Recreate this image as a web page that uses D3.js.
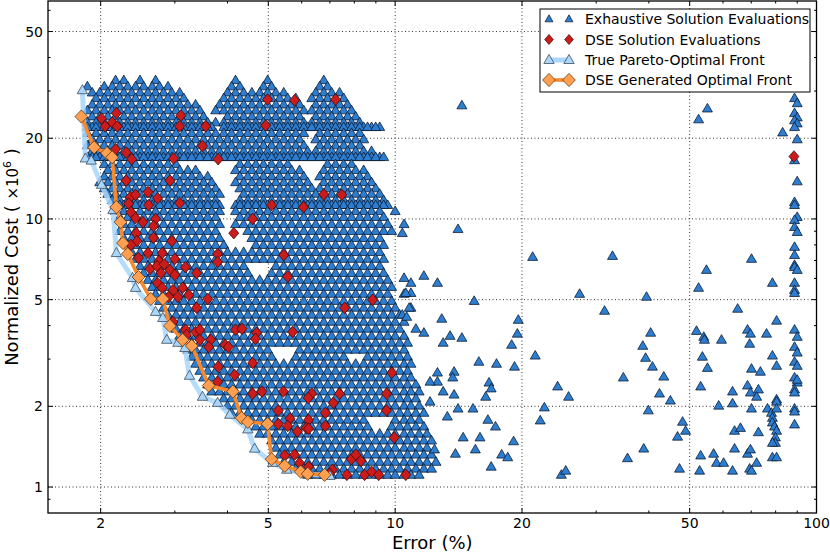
<!DOCTYPE html>
<html>
<head>
<meta charset="utf-8">
<script src="https://cdn.jsdelivr.net/npm/d3@7"></script>
<style>
  body { margin: 0; background: #fff; }
  svg { font-family: "DejaVu Sans", sans-serif; }
</style>
</head>
<body>
<svg id="chart" width="830" height="554"></svg>
<script>
// ---- data: [cost (x10^6), [errors %]] per row of the dense cloud ----
var exhaustiveRows = [
 [32.9,[2.17,2.27,2.48,2.70,4.18,4.98,6.77]],
 [31.2,[1.86,2.04,2.13,2.22,2.32,2.42,2.53,2.65,2.76,2.89,4.09,4.28,4.87,5.09,6.62,6.91]],
 [29.6,[1.91,1.99,2.08,2.17,2.27,2.37,2.48,2.59,2.70,2.82,2.95,3.08,4.00,4.18,4.37,4.57,4.77,4.98,5.21,5.44,6.48,6.77,7.07,7.38]],
 [28.2,[1.95,2.04,2.13,2.22,2.32,2.42,2.53,2.65,2.76,2.89,3.02,3.15,3.92,4.09,4.28,4.47,4.67,4.87,5.09,5.32,5.56,5.81,6.34,6.62,6.91,7.22,7.55]],
 [26.7,[1.91,1.99,2.08,2.17,2.27,2.37,2.48,2.59,2.70,2.82,2.95,3.08,3.22,3.36,3.83,4.00,4.18,4.37,4.57,4.77,4.98,5.21,5.44,5.68,5.93,6.48,6.77,7.07,7.38,7.71]],
 [25.4,[1.86,1.95,2.04,2.13,2.22,2.32,2.42,2.53,2.65,2.76,2.89,3.02,3.15,3.29,3.44,3.75,3.92,4.09,4.28,4.47,4.67,4.87,5.09,5.32,5.56,5.81,6.07,6.34,6.62,6.91,7.22,7.55,7.88]],
 [24.1,[1.91,1.99,2.08,2.17,2.27,2.37,2.48,2.59,2.70,2.82,2.95,3.08,3.22,3.36,3.51,4.00,4.18,4.37,4.57,4.77,4.98,5.21,5.44,5.68,5.93,6.48,6.77,7.07,7.38,7.71,8.06]],
 [22.9,[1.86,1.95,2.04,2.13,2.22,2.32,2.42,2.53,2.65,2.76,2.89,3.02,3.15,3.29,3.44,3.59,3.75,3.92,4.09,4.28,4.47,4.67,4.87,5.09,5.32,5.56,5.81,6.07,6.34,6.62,6.91,7.22,7.55,7.88,8.24]],
 [22.0,[1.91,1.99,2.08,2.17,2.27,2.37,2.48,2.59,2.70,2.82,2.95,3.08,3.22,3.36,3.51,3.67,4.00,4.18,4.37,4.57,4.77,4.98,5.21,5.44,5.68,5.93,6.20,6.48,6.77,7.07,7.38,7.71,8.06,8.42,8.79,9.19,
        1.86,1.95,2.04,2.13,2.22,2.32,2.42,2.53,2.65,2.76,2.89,3.02,3.15,3.29,3.44,3.59,3.92,4.09,4.28,4.47,4.67,4.87,5.09,5.32,5.56,5.81,6.07,6.34,6.62,6.91,7.22,7.55,7.88,8.24,8.60,8.99]],
 [20.9,[1.86,1.95,2.04,2.13,2.22,2.32,2.42,2.53,2.65,2.76,2.89,3.02,3.15,3.29,3.44,3.59,3.75,3.92,4.09,4.28,4.47,4.67,4.87,5.09,5.32,5.56,5.81,6.07,6.62,6.91,7.22,7.55,7.88,8.24]],
 [19.8,[1.91,1.99,2.08,2.17,2.27,2.37,2.48,2.59,2.70,2.82,2.95,3.08,3.22,3.36,3.51,3.67,3.83,4.00,4.18,4.37,4.57,4.77,4.98,5.21,5.44,5.68,5.93,6.48,6.77,7.07,7.38,7.71,8.06,8.42]],
 [18.8,[1.86,1.95,2.04,2.13,2.22,2.32,2.42,2.53,2.65,2.76,2.89,3.02,3.15,3.29,3.44,3.59,3.75,3.92,4.09,4.28,4.47,4.67,4.87,5.09,5.32,5.56,5.81,6.07,6.62,6.91,7.22,7.55,7.88,8.24]],
 [17.9,[1.91,1.99,2.08,2.17,2.27,2.37,2.48,2.59,2.70,2.82,2.95,3.08,3.22,3.36,3.51,3.67,3.83,4.00,4.18,4.37,4.57,4.77,4.98,5.21,5.44,5.68,5.93,6.20,6.48,6.77,7.07,7.38,7.71,8.06,8.42,8.79]],
 [17.0,[1.91,1.99,2.08,2.17,2.27,2.37,2.48,2.59,2.70,2.82,2.95,3.08,3.22,3.36,3.51,3.67,3.83,4.00,4.18,4.37,4.57,4.77,4.98,5.21,5.44,5.68,5.93,6.20,6.48,6.77,7.07,7.38,7.71,8.06,8.42,8.79,9.19,
        1.86,1.95,2.04,2.13,2.22,2.32,2.42,2.53,2.65,2.76,2.89,3.02,3.15,3.29,3.44,3.59,3.75,3.92,4.09,4.28,4.47,4.67,4.87,5.09,5.32,5.56,5.81,6.07,6.34,6.62,6.91,7.22,7.55,7.88,8.24,8.60,8.99,9.39]],
 [16.0,[2.04,2.13,2.22,2.32,2.42,2.53,2.65,2.76,2.89,3.02,4.28,4.47,4.67,4.87,5.09,5.32,5.56,6.91,7.22,7.55,7.88]],
 [15.2,[2.08,2.17,2.27,2.37,2.48,2.59,2.70,2.82,2.95,3.08,3.22,3.36,4.18,4.37,4.57,4.77,4.98,5.21,5.44,5.68,5.93,6.77,7.07,7.38,7.71,8.06,8.42]],
 [14.4,[2.04,2.13,2.22,2.32,2.42,2.53,2.65,2.76,2.89,3.02,3.15,3.29,3.44,3.59,4.28,4.47,4.67,4.87,5.09,5.32,5.56,5.81,6.07,6.62,6.91,7.22,7.55,7.88,8.24,8.60]],
 [13.7,[1.99,2.08,2.17,2.27,2.37,2.48,2.59,2.70,2.82,2.95,3.08,3.22,3.36,3.51,3.67,4.18,4.37,4.57,4.77,4.98,5.21,5.44,5.68,5.93,6.20,6.77,7.07,7.38,7.71,8.06,8.42,8.79]],
 [13.0,[2.04,2.13,2.22,2.32,2.42,2.53,2.65,2.76,2.89,3.02,3.15,3.29,3.44,3.59,3.75,4.28,4.47,4.67,4.87,5.09,5.32,5.56,5.81,6.07,6.34,6.62,6.91,7.22,7.55,7.88,8.24,8.60,8.99]],
 [12.4,[2.08,2.17,2.27,2.37,2.48,2.59,2.70,2.82,2.95,3.08,3.22,3.36,3.51,3.67,3.83,4.37,4.57,4.77,4.98,5.21,5.44,5.68,5.93,6.20,6.48,6.77,7.07,7.38,7.71,8.06,8.42,8.79,9.19]],
 [11.75,[2.13,2.22,2.32,2.42,2.53,2.65,2.76,2.89,3.02,3.15,3.29,3.44,3.59,3.75,4.28,4.47,4.67,4.87,5.09,5.32,5.56,5.81,6.07,6.34,6.62,6.91,7.22,7.55,7.88,8.24,8.60,8.99,9.39]],
 [11.26,[2.17,2.27,2.37,2.48,2.59,2.70,2.82,2.95,3.08,3.22,3.36,3.51,3.67,3.83,4.18,4.37,4.57,4.77,4.98,5.21,5.44,5.68,5.93,6.20,6.48,6.77,7.07,7.38,7.71,8.06,8.42,8.79,9.19,9.60,
         2.22,2.32,2.42,2.53,2.65,2.76,2.89,3.02,3.15,3.29,3.44,3.59,3.75,4.28,4.47,4.67,4.87,5.09,5.32,5.56,5.81,6.07,6.34,6.62,6.91,7.22,7.55,7.88,8.24,8.60,8.99,9.39]],
 [10.69,[2.17,2.27,2.37,2.48,2.59,2.70,2.82,2.95,3.08,3.22,3.36,3.51,3.67,3.83,4.18,4.37,4.57,4.77,4.98,5.21,5.44,5.68,5.93,6.20,6.48,6.77,7.07,7.38,7.71,8.06,8.42,8.79,9.19,10.0]],
 [10.16,[2.22,2.32,2.42,2.53,2.65,2.76,2.89,3.02,3.15,3.29,3.44,3.59,3.75,4.28,4.47,4.67,4.87,5.09,5.32,5.56,5.81,6.07,6.34,6.62,6.91,7.22,7.55,7.88,8.24,8.60,8.99,9.39]],
 [9.56,[2.27,2.37,2.48,2.59,2.70,2.82,2.95,3.08,3.22,3.36,3.51,3.67,3.83,4.18,4.37,4.57,4.77,4.98,5.21,5.44,5.68,5.93,6.20,6.48,6.77,7.07,7.38,7.71,8.06,8.42,8.79,9.19,9.60,10.5]],
 [9.01,[2.22,2.32,2.42,2.53,2.65,2.76,2.89,3.02,3.15,3.29,3.44,3.59,3.75,4.47,4.67,4.87,5.09,5.32,5.56,5.81,6.07,6.34,6.62,6.91,7.22,7.55,7.88,8.24,8.60,8.99,9.39,9.81]],
 [8.48,[2.27,2.37,2.48,2.59,2.70,2.82,2.95,3.08,3.22,3.36,3.51,3.67,3.83,4.57,4.77,4.98,5.21,5.44,5.68,5.93,6.20,6.48,6.77,7.07,7.38,7.71,8.06,8.42,8.79,9.19]],
 [7.99,[2.32,2.42,2.53,2.65,2.76,2.89,3.02,3.15,3.29,3.44,3.59,3.75,3.92,4.67,4.87,5.09,5.32,5.56,5.81,6.07,6.34,6.62,6.91,7.22,7.55,7.88,8.24,8.60,8.99,9.39]],
 [7.52,[2.37,2.48,2.59,2.70,2.82,2.95,3.08,3.22,3.36,3.51,3.67,3.83,4.00,4.18,4.37,4.57,4.77,4.98,5.21,5.44,5.68,5.93,6.20,6.48,6.77,7.07,7.38,7.71,8.06,8.42,8.79,9.19]],
 [7.09,[2.42,2.53,2.65,2.76,2.89,3.02,3.15,3.29,3.44,3.59,3.75,3.92,4.09,4.28,4.47,4.67,4.87,5.09,5.32,5.56,5.81,6.07,6.34,6.62,6.91,7.22,7.55,7.88,8.24,8.60,8.99,9.39]],
 [6.67,[2.48,2.59,2.70,2.82,2.95,3.08,3.22,3.36,3.51,3.67,3.83,4.00,4.18,4.37,5.21,5.44,5.68,5.93,6.20,6.48,6.77,7.07,7.38,7.71,8.06,8.42,8.79,9.19]],
 [6.28,[2.53,2.65,2.76,2.89,3.02,3.15,3.29,3.44,3.59,3.75,3.92,4.09,4.28,4.47,5.09,5.32,5.56,5.81,6.07,6.34,6.62,6.91,7.22,7.55,7.88,8.24,8.60,8.99,9.39]],
 [5.92,[2.59,2.70,2.82,2.95,3.08,3.22,3.36,3.51,3.67,3.83,4.00,4.18,4.37,4.57,4.77,4.98,5.21,5.44,5.68,5.93,6.20,6.48,6.77,7.07,7.38,7.71,8.06,8.42,8.79,9.19,9.60]],
 [5.57,[2.65,2.76,2.89,3.02,3.15,3.29,3.44,3.59,3.75,3.92,4.09,4.28,4.47,4.67,4.87,5.09,5.32,5.56,5.81,6.07,6.34,6.62,6.91,7.22,7.55,7.88,8.24,8.60,8.99,9.39,9.81]],
 [5.25,[2.70,2.82,2.95,3.08,3.22,3.36,3.51,3.67,3.83,4.00,4.18,4.37,4.57,4.77,4.98,5.21,5.44,5.68,5.93,6.20,6.48,6.77,7.07,7.38,7.71,8.06,8.42,8.79,9.19,9.60,10.5]],
 [4.94,[2.76,2.89,3.02,3.15,3.29,3.44,3.59,3.75,3.92,4.09,4.28,4.47,4.67,4.87,5.09,5.32,5.56,5.81,6.07,6.34,6.62,6.91,7.22,7.55,7.88,8.24,8.60,8.99,9.39,9.81]],
 [4.66,[2.82,2.95,3.08,3.22,3.36,3.51,3.67,3.83,4.00,4.18,4.37,4.57,4.77,4.98,5.21,5.44,5.68,5.93,6.20,6.48,6.77,7.07,7.38,7.71,8.06,8.42,8.79,9.19,9.60,10.0,10.9]],
 [4.39,[2.89,3.02,3.15,3.29,3.44,3.59,3.75,3.92,4.09,4.28,4.47,4.67,4.87,5.09,5.32,5.56,5.81,6.07,6.34,6.62,6.91,7.22,7.55,7.88,8.24,8.60,8.99,9.39,9.81,10.25]],
 [4.13,[2.95,3.08,3.22,3.36,3.51,3.67,3.83,4.00,4.18,4.37,4.57,4.77,4.98,5.21,5.44,5.68,5.93,6.20,6.48,6.77,7.07,7.38,7.71,8.06,8.42,8.79,9.19,9.60,10.0,10.5]],
 [3.89,[3.02,3.15,3.29,3.44,3.59,3.75,3.92,4.09,4.28,4.47,4.67,4.87,5.09,5.32,5.56,5.81,6.07,6.34,6.62,6.91,7.22,7.55,7.88,8.24,8.60,8.99,9.39,9.81,10.25,11.2]],
 [3.66,[3.08,3.22,3.36,3.51,3.67,3.83,4.00,4.18,4.37,4.57,4.77,4.98,5.21,5.44,5.68,5.93,6.20,6.48,6.77,7.07,7.38,7.71,8.06,8.42,8.79,9.19,9.60,10.0,10.5]],
 [3.45,[3.15,3.29,3.44,3.59,3.75,3.92,4.09,4.28,4.47,4.67,4.87,5.09,5.32,5.56,5.81,6.07,6.34,6.62,6.91,7.22,7.55,7.88,8.24,8.60,8.99,9.39,9.81,10.25,10.7]],
 [3.25,[3.22,3.36,3.51,3.67,3.83,4.00,4.18,4.37,4.57,4.77,4.98,5.93,6.20,6.48,6.77,7.07,7.38,7.71,8.06,8.42,8.79,9.19,9.60,10.0,10.5]],
 [3.06,[3.29,3.44,3.59,3.75,3.92,4.09,4.28,4.47,4.67,4.87,5.09,5.81,6.07,6.34,6.62,6.91,7.22,7.55,8.60,8.99,9.39,9.81,10.25,10.7]],
 [2.88,[3.36,3.51,3.67,3.83,4.00,4.18,4.37,4.57,4.77,4.98,5.21,5.44,5.68,5.93,6.20,6.48,6.77,7.07,7.38,7.71,8.06,8.42,8.79,9.19,9.60,10.0,10.5,10.9]],
 [2.71,[3.44,3.59,3.75,3.92,4.09,4.28,4.47,4.67,4.87,5.09,5.32,5.56,5.81,6.07,6.34,6.62,6.91,7.22,7.55,7.88,8.24,8.60,8.99,9.39,9.81,10.25,10.7]],
 [2.56,[3.51,3.67,3.83,4.00,4.18,4.37,4.57,4.77,4.98,5.21,5.44,5.68,5.93,6.20,6.48,6.77,7.07,7.38,7.71,8.06,8.42,8.79,9.19,9.60,10.0,10.5,10.9]],
 [2.41,[3.59,3.75,3.92,4.09,4.28,4.47,4.67,4.87,5.09,5.32,5.56,5.81,6.07,6.34,6.62,6.91,7.22,7.55,7.88,8.24,8.60,8.99,9.39,9.81,10.25,10.7,11.2]],
 [2.27,[3.67,3.83,4.00,4.18,4.37,4.57,4.77,4.98,5.21,5.44,5.68,5.93,6.20,6.48,6.77,7.07,7.38,7.71,8.06,8.42,8.79,9.19,9.60,10.0,10.5,10.9,11.4]],
 [2.14,[3.92,4.09,4.28,4.47,4.67,4.87,5.09,5.32,5.56,5.81,6.07,6.34,6.62,6.91,7.22,7.55,7.88,8.24,8.60,8.99,9.39,9.81,10.25,10.7,11.2]],
 [2.01,[4.00,4.18,4.37,4.57,4.77,4.98,5.21,5.44,5.68,5.93,6.20,6.48,6.77,7.07,7.38,7.71,8.06,8.42,8.79,9.19,9.60,10.0,10.5,10.9,11.4]],
 [1.89,[4.09,4.28,4.47,4.67,4.87,5.09,5.32,5.56,5.81,6.07,6.34,6.62,6.91,7.22,7.55,7.88,8.24,8.60,8.99,9.39,9.81,10.25,10.7,11.2,11.7]],
 [1.78,[4.37,4.57,4.77,4.98,5.21,5.44,5.68,5.93,6.20,6.48,6.77,7.07,7.38,7.71,8.06,8.42,10.0,10.5,10.9,11.4]],
 [1.68,[4.67,4.87,5.09,5.32,5.56,5.81,6.07,6.34,6.62,6.91,7.22,7.55,7.88,8.24,8.60,9.81,10.25,10.7,11.2,11.7]],
 [1.58,[4.77,4.98,5.21,5.44,5.68,5.93,6.20,6.48,6.77,7.07,7.38,7.71,8.06,8.42,8.79,9.19,9.60,10.0,10.5,10.9,11.4,11.9]],
 [1.49,[5.09,5.32,5.56,5.81,6.07,6.34,6.62,6.91,7.22,7.55,7.88,8.24,8.60,8.99,9.39,9.81,10.25,10.7,11.2,11.7,12.2]],
 [1.40,[5.21,5.44,5.68,5.93,6.20,6.48,6.77,7.07,7.38,7.71,8.06,8.42,8.79,9.19,9.60,10.0,10.5,10.9,11.4,11.9]],
 [1.32,[5.32,5.56,5.81,6.07,6.34,6.62,6.91,7.22,7.55,7.88,8.24,8.60,8.99,9.39,9.81,10.25,10.7,11.2,11.7,12.2]],
 [1.24,[5.44,5.68,5.93,6.20,6.48,6.77,7.07,7.38,7.71,8.06,8.42,8.79,9.19,9.60,10.0,10.5,10.9,11.4,11.9,12.5]],
 [1.17,[5.81,6.07,6.34,6.62,6.91,7.22,7.55,7.88,8.24,8.60,8.99,9.39,9.81,10.25,10.7,11.2,11.7,12.2]],
 [1.11,[6.20,6.48,6.77,7.07,7.38,7.71,8.06,8.42,8.79,9.19,9.60,10.0,10.5,10.9,11.4]]
];

// scattered exhaustive evaluations outside the dense cloud [error, cost]
var exhaustiveOutliers = [
 [14.4,26.5],[52.5,23.5],[55.1,25.8],[83.1,21.0],
 [10.4,8.85],[14.1,9.16],[21.2,7.21],[32.8,7.27],[70.1,7.09],[54.8,6.45],[52.5,5.53],[78.6,5.77],
 [10.5,6.02],[10.9,5.77],[11.7,6.13],[12.6,5.77],[10.9,5.29],[10.6,5.29],[15.4,4.94],[27.4,5.25],[39.5,5.12],[31.4,4.54],[65.0,4.62],[80.4,4.17],
 [10.8,4.66],[10.4,4.39],[10.65,4.31],[12.9,4.24],[19.6,4.20],[19.5,3.73],[18.9,3.39],[19.2,2.81],
 [11.7,3.76],[13.5,3.66],[14.4,3.60],[13.0,3.45],[15.8,2.93],[17.4,2.88],[21.5,3.09],
 [40.4,3.76],[38.7,3.36],[39.3,3.03],[40.8,2.81],[43.4,2.58],[34.8,2.56],[24.3,2.37],[25.8,2.17],[42.4,2.23],
 [51.9,3.82],[54.0,3.63],[54.2,3.54],[59.5,3.54],[68.6,3.86],[69.7,3.73],[69.4,3.42],[76.1,3.73],[78.6,3.09],[80.4,2.83],
 [53.6,3.06],[55.1,2.78],[70.1,2.76],[73.6,2.69],[53.1,2.37],[63.2,2.27],[68.6,2.39],[69.7,2.25],[72.8,2.31],[80.4,2.12],
 [24.8,1.11],[25.4,1.15],[22.6,1.98],[22.1,1.77],[19.1,1.48],[17.9,1.32],[18.5,1.29],
 [35.6,1.28],[38.9,1.39],[39.9,1.93],[45.0,2.10],[46.8,1.54],[48.1,1.75],[48.9,1.62],[47.3,1.17],
 [52.8,1.15],[53.1,1.31],[57.0,1.33],[57.9,1.23],[58.6,2.01],[60.2,1.23],[63.2,2.05],[63.2,1.15],[63.9,1.62],[63.9,1.39],[66.0,1.66],
 [68.6,1.33],[69.7,1.38],[69.4,1.17],[70.1,1.15],[70.1,1.96],[72.1,2.17],[72.1,1.23],[72.8,1.60],
 [76.5,1.96],[78.2,1.89],[78.6,1.81],[78.6,1.74],[79.5,1.68],[80.4,1.62],[79.9,1.53],[79.9,1.46],[78.6,1.46],[78.6,1.29],[80.4,1.29],[80.4,2.08],[80.4,1.96],
 [12.6,2.67],[13.8,2.69],[13.7,2.56],[12.6,2.47],[12.1,2.47],[16.7,2.45],[16.9,2.33],[13.8,2.21],[13.0,2.27],[16.4,2.17],[12.1,2.08],[14.1,1.96],
 [15.3,1.96],[13.3,1.83],[16.6,1.78],[17.3,1.68],[14.5,1.53],[15.9,1.53],[15.5,1.38],[13.9,1.33],[16.9,1.19],[12.4,1.38],
 [88.7,28.2],[90.0,27.0],[88.7,24.8],[90.0,23.9],[88.7,23.3],[90.0,22.7],[88.7,22.0],[90.0,19.8],[88.7,16.55],[90.0,13.8],
 [88.7,11.55],[88.7,11.26],[90.0,10.16],[88.7,9.9],[88.7,9.32],[90.0,8.93],[88.7,7.86],[88.7,7.33],[88.7,6.73],[88.7,6.61],
 [90.0,6.45],[88.7,5.77],[88.7,5.43],[88.7,5.29],[88.7,3.86],[90.0,3.63],[88.7,3.33],[90.0,3.17],[88.7,2.93],[90.0,2.83],
 [88.7,2.56],[90.0,2.45],[88.7,2.31],[88.7,2.25],[90.0,2.51],[88.7,1.96],[88.7,1.91],[88.7,1.71]
];

// DSE solution evaluations [error, cost]
var dseSolutions = [
 [4.98,27.9],[5.77,27.7],[7.22,27.9],[2.01,23.7],[2.05,22.15],[2.13,22.9],[2.18,24.8],[2.19,22.15],[3.10,24.3],[3.08,22.15],[3.55,22.15],[4.93,22.3],
 [3.49,18.7],[2.17,18.2],[2.30,17.7],[2.37,16.7],[2.98,16.8],[3.80,16.7],
 [2.30,13.9],[2.92,13.9],[2.35,12.05],[2.42,12.3],[2.59,12.6],[2.73,11.95],[2.60,11.26],[2.33,11.4],[3.08,11.45],
 [6.06,11.07],[6.77,12.35],[7.47,12.3],[5.09,11.26],
 [2.36,10.6],[2.42,10.07],[2.52,9.73],[2.70,10.0],[2.67,9.40],[4.59,10.0],[4.14,8.85],[2.43,8.85],[2.44,8.27],[2.36,8.0],[2.67,8.5],[2.95,8.27],
 [2.59,7.46],[2.80,7.46],[2.46,7.15],[2.75,6.97],[3.00,7.09],[3.79,7.40],[3.79,6.91],[5.44,7.33],
 [2.62,6.51],[2.72,6.67],[2.83,6.78],[2.92,6.45],[3.18,6.61],[3.00,6.18],[3.38,6.28],[2.78,6.28],[5.56,6.09],
 [2.73,5.77],[2.80,5.53],[2.97,5.43],[3.13,5.53],[3.24,5.20],[3.05,5.12],[2.90,5.12],[3.59,5.03],[3.38,4.66],
 [7.59,4.66],[8.84,4.99],
 [2.97,4.13],[3.18,3.86],[3.36,3.79],[3.44,3.86],[3.20,3.69],[3.44,3.54],[3.65,3.54],[3.61,3.33],[3.95,3.39],[4.02,3.33],[4.18,3.86],[4.33,3.89],[4.69,3.76],[4.66,3.57],[5.71,3.79],
 [3.80,2.81],[4.16,2.62],[4.59,2.90],[3.79,2.47],[9.82,2.67],
 [4.59,2.23],[4.83,2.27],[5.43,2.27],[6.34,2.23],[6.22,2.15],[7.38,2.23],[7.13,2.06],[9.54,2.23],[9.54,1.93],[6.83,1.89],[5.28,1.93],
 [5.63,1.80],[5.28,1.72],[5.56,1.69],[6.23,1.78],[6.15,1.66],[6.23,1.65],[6.83,1.69],[5.86,1.61],[9.95,1.53],
 [5.47,1.31],[5.77,1.32],[5.93,1.23],[6.23,1.19],[7.10,1.16],[7.87,1.27],[8.07,1.32],[8.29,1.25],[6.99,1.12],[7.68,1.11],[8.46,1.11],[8.79,1.14],[9.14,1.11],[10.6,1.11],
 [88.4,17.1]
];

// true Pareto-optimal front [error, cost]
var trueFront = [
 [1.81,30.2],[1.84,16.8],[1.90,16.5],[2.01,13.4],[2.14,10.8],[2.18,7.46],[2.38,6.02],[2.42,5.53],[2.70,4.50],[2.81,4.27],
 [2.87,3.54],[3.05,3.45],[3.17,3.30],[3.25,2.60],[3.49,2.17],[3.79,2.06],[4.05,1.86],[4.47,1.64],[4.64,1.39],[5.12,1.23],
 [5.53,1.16],[6.20,1.12],[7.00,1.10]
];

// DSE generated optimal front [error, cost]
var dseFront = [
 [1.80,24.1],[1.93,18.5],[2.07,17.6],[2.13,16.98],[2.18,11.07],[2.23,9.73],[2.26,8.13],[2.32,7.40],[2.46,6.07],[2.63,5.03],
 [2.81,5.03],[2.92,3.99],[3.13,3.54],[3.29,3.36],[3.61,2.39],[4.12,2.27],[4.32,1.81],[4.47,1.75],[4.98,1.72],[5.09,1.27],
 [5.47,1.20],[5.97,1.14],[6.20,1.12],[6.80,1.11]
];

var xMajor = [2, 5, 10, 20, 50, 100];
var xMinor = [3, 4, 6, 7, 8, 9, 30, 40, 60, 70, 80, 90];
var yMajor = [1, 2, 5, 10, 20, 50];
var yMinor = [0.9, 3, 4, 6, 7, 8, 9, 30, 40, 60];
var legendLabels = ['Exhaustive Solution Evaluations', 'DSE Solution Evaluations',
                    'True Pareto-Optimal Front', 'DSE Generated Optimal Front'];

// ---- drawing ----
var padL = 48, padR = 816.5, padT = 1, padB = 513;
var svg = d3.select('#chart');
var x = d3.scaleLog().domain([1.5, 100]).range([padL, padR]);
var y = d3.scaleLog().domain([0.8, 65]).range([padB, padT]);

var triPath = 'M0,-5.2L5,3.4L-5,3.4Z';
var lightTri = 'M0,-5.6L5.2,3.5L-5.2,3.5Z';
var redDia = 'M0,-5.8L5,0L0,5.8L-5,0Z';
var orangeDia = 'M0,-6.6L6.4,0L0,6.6L-6.4,0Z';

svg.append('defs').append('clipPath').attr('id', 'plotclip')
  .append('rect').attr('x', padL).attr('y', padT)
  .attr('width', padR - padL).attr('height', padB - padT);

// grid
var grid = svg.append('g').attr('stroke', '#000').attr('stroke-width', 0.8)
  .attr('stroke-dasharray', '1,2.5');
grid.selectAll('.gx').data(xMajor.slice(0, 5)).enter().append('line')
  .attr('x1', d => x(d)).attr('x2', d => x(d)).attr('y1', padT).attr('y2', padB);
grid.selectAll('.gy').data(yMajor).enter().append('line')
  .attr('y1', d => y(d)).attr('y2', d => y(d)).attr('x1', padL).attr('x2', padR);

var plot = svg.append('g').attr('clip-path', 'url(#plotclip)');

var cloud = [];
exhaustiveRows.forEach(function (r) {
  r[1].forEach(function (e) { cloud.push([e, r[0]]); });
});
cloud = cloud.concat(exhaustiveOutliers);

plot.append('g').selectAll('path').data(cloud).enter().append('path')
  .attr('d', triPath)
  .attr('transform', d => 'translate(' + x(d[0]) + ',' + y(d[1]) + ')')
  .attr('fill', '#2d7dd0').attr('stroke', '#08152a').attr('stroke-width', 0.75);

plot.append('g').selectAll('path').data(dseSolutions).enter().append('path')
  .attr('d', redDia)
  .attr('transform', d => 'translate(' + x(d[0]) + ',' + y(d[1]) + ')')
  .attr('fill', '#cc1b1b').attr('stroke', '#3a0505').attr('stroke-width', 0.7);

var line = d3.line().x(d => x(d[0])).y(d => y(d[1]));

plot.append('path').datum(trueFront).attr('d', line)
  .attr('fill', 'none').attr('stroke', '#a9d6fa').attr('stroke-width', 5)
  .attr('stroke-opacity', 0.85).attr('stroke-linejoin', 'round');
plot.append('g').selectAll('path').data(trueFront).enter().append('path')
  .attr('d', lightTri)
  .attr('transform', d => 'translate(' + x(d[0]) + ',' + y(d[1]) + ')')
  .attr('fill', '#a9d6fa').attr('stroke', '#2a3a4a').attr('stroke-width', 0.7);

plot.append('path').datum(dseFront).attr('d', line)
  .attr('fill', 'none').attr('stroke', '#f7892f').attr('stroke-width', 3.6)
  .attr('stroke-linejoin', 'round');
plot.append('g').selectAll('path').data(dseFront).enter().append('path')
  .attr('d', orangeDia)
  .attr('transform', d => 'translate(' + x(d[0]) + ',' + y(d[1]) + ')')
  .attr('fill', '#ff9f4f').attr('stroke', '#4a2a10').attr('stroke-width', 0.7);

// frame and ticks (inward, on all four sides)
var ax = svg.append('g').attr('stroke', '#000');
ax.append('rect').attr('x', padL).attr('y', padT).attr('width', padR - padL)
  .attr('height', padB - padT).attr('fill', 'none').attr('stroke-width', 1.3);

function xTicks(vals, len) {
  vals.forEach(function (v) {
    ax.append('line').attr('x1', x(v)).attr('x2', x(v)).attr('y1', padB).attr('y2', padB - len);
    ax.append('line').attr('x1', x(v)).attr('x2', x(v)).attr('y1', padT).attr('y2', padT + len);
  });
}
function yTicks(vals, len) {
  vals.forEach(function (v) {
    ax.append('line').attr('y1', y(v)).attr('y2', y(v)).attr('x1', padL).attr('x2', padL + len);
    ax.append('line').attr('y1', y(v)).attr('y2', y(v)).attr('x1', padR).attr('x2', padR - len);
  });
}
xTicks(xMajor, 5); xTicks(xMinor, 2.5);
yTicks(yMajor, 5); yTicks(yMinor, 2.5);

svg.append('g').selectAll('text').data(xMajor).enter().append('text')
  .attr('x', d => x(d)).attr('y', 528).attr('text-anchor', 'middle')
  .attr('font-size', 14).attr('fill', '#000').text(d => d);
svg.append('g').selectAll('text').data(yMajor).enter().append('text')
  .attr('x', 43).attr('y', d => y(d) + 5).attr('text-anchor', 'end')
  .attr('font-size', 14).attr('fill', '#000').text(d => d);

svg.append('text').attr('x', (padL + padR) / 2).attr('y', 549)
  .attr('text-anchor', 'middle').attr('font-size', 18).text('Error (%)');

var yl = svg.append('text').attr('transform', 'translate(18,' + ((padT + padB) / 2) + ') rotate(-90)')
  .attr('text-anchor', 'middle').attr('font-size', 18);
yl.append('tspan').text('Normalized Cost ( ');
yl.append('tspan').attr('font-size', 15).text('\u00d710');
yl.append('tspan').attr('font-size', 11).attr('dy', -7).text('6');
yl.append('tspan').attr('dy', 7).text(' )');

// legend
var lg = svg.append('g');
lg.append('rect').attr('x', 540).attr('y', 9).attr('width', 270).attr('height', 83)
  .attr('fill', '#fff').attr('stroke', '#000').attr('stroke-width', 1);
var rowY = [19, 39.5, 60, 80];
lg.append('line').attr('x1', 549).attr('x2', 569).attr('y1', rowY[2]).attr('y2', rowY[2])
  .attr('stroke', '#a9d6fa').attr('stroke-width', 5);
lg.append('line').attr('x1', 549).attr('x2', 569).attr('y1', rowY[3]).attr('y2', rowY[3])
  .attr('stroke', '#f7892f').attr('stroke-width', 3.6);
[549, 569].forEach(function (mx) {
  lg.append('path').attr('d', 'M0,-4.2L4,2.8L-4,2.8Z')
    .attr('transform', 'translate(' + mx + ',' + rowY[0] + ')')
    .attr('fill', '#2d7dd0').attr('stroke', '#08152a').attr('stroke-width', 0.7);
  lg.append('path').attr('d', 'M0,-5L4.3,0L0,5L-4.3,0Z')
    .attr('transform', 'translate(' + mx + ',' + rowY[1] + ')')
    .attr('fill', '#cc1b1b').attr('stroke', '#3a0505').attr('stroke-width', 0.7);
  lg.append('path').attr('d', lightTri)
    .attr('transform', 'translate(' + mx + ',' + rowY[2] + ')')
    .attr('fill', '#a9d6fa').attr('stroke', '#2a3a4a').attr('stroke-width', 0.7);
  lg.append('path').attr('d', orangeDia)
    .attr('transform', 'translate(' + mx + ',' + rowY[3] + ')')
    .attr('fill', '#ff9f4f').attr('stroke', '#4a2a10').attr('stroke-width', 0.7);
});
lg.selectAll('text').data(legendLabels).enter().append('text')
  .attr('x', 585).attr('y', (d, i) => rowY[i] + 5).attr('font-size', 14).text(d => d);
</script>
</body>
</html>
